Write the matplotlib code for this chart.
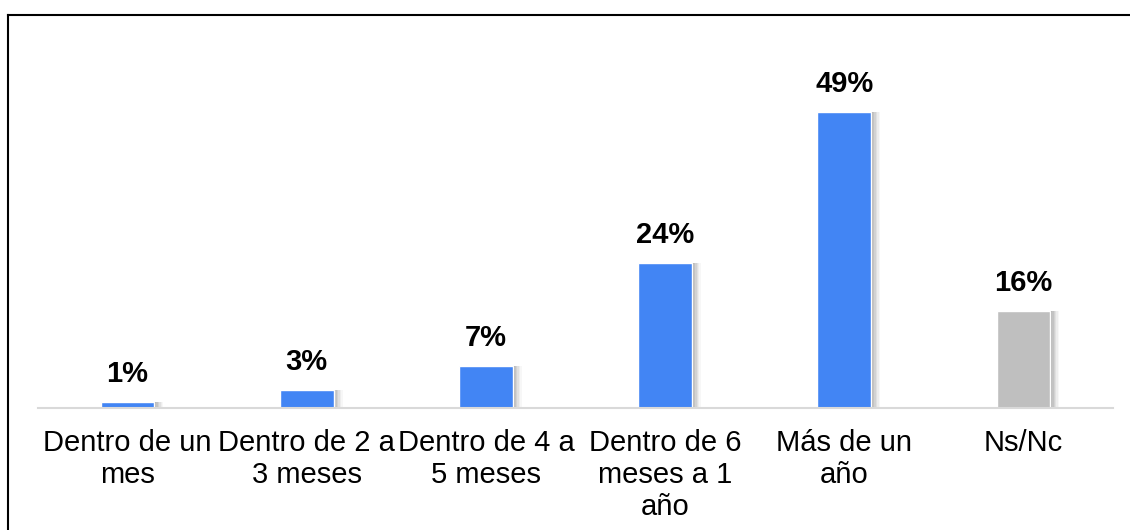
import matplotlib.pyplot as plt
from matplotlib.lines import Line2D

categorias = ["Dentro de un\nmes", "Dentro de 2 a\n3 meses", "Dentro de 4 a\n5 meses",
              "Dentro de 6\nmeses a 1\naño", "Más de un\naño", "Ns/Nc"]
valores = [1, 3, 7, 24, 49, 16]
etiquetas = ["1%", "3%", "7%", "24%", "49%", "16%"]
colores = ["#4285F4", "#4285F4", "#4285F4", "#4285F4", "#4285F4", "#BFBFBF"]

plt.rcParams['font.family'] = ['Liberation Sans', 'DejaVu Sans']

fig = plt.figure(figsize=(11.3, 5.3), dpi=100)
ax = fig.add_axes([38 / 1130, (530 - 408) / 530, 1075 / 1130, (408 - 15) / 530])

x = list(range(len(valores)))
ancho = 0.30

# sombra suave a la derecha de cada barra
for i, a in enumerate([0.03, 0.04, 0.05, 0.06, 0.07, 0.08]):
    off = 0.05 - i * 0.008
    ax.bar([p + off for p in x], valores, width=ancho, color="black", alpha=a,
           linewidth=0, zorder=1)

ax.bar(x, valores, width=ancho, color=colores, edgecolor="white", linewidth=1, zorder=2)

for xi, v, t in zip(x, valores, etiquetas):
    ax.annotate(t, (xi, v), xytext=(0, 10), textcoords="offset points",
                ha="center", va="bottom", fontsize=21, fontweight="bold")

ax.set_xlim(-0.5, 5.5)
ax.set_ylim(0, 65.07)
ax.set_xticks(x)
ax.set_xticklabels(categorias, fontsize=21, linespacing=1.18)
ax.tick_params(axis="x", length=0, pad=15)
ax.set_yticks([])
for s in ["top", "right", "left"]:
    ax.spines[s].set_visible(False)
ax.spines["bottom"].set_color("#D9D9D9")
ax.spines["bottom"].set_linewidth(1.5)

# marco recortado (solo borde superior e izquierdo visibles)
fig.add_artist(Line2D([8 / 1130, 8 / 1130], [0, (530 - 15) / 530], color="black", lw=1.5))
fig.add_artist(Line2D([8 / 1130, 1], [(530 - 15) / 530, (530 - 15) / 530], color="black", lw=1.5))

fig.savefig("out.png", dpi=100)
